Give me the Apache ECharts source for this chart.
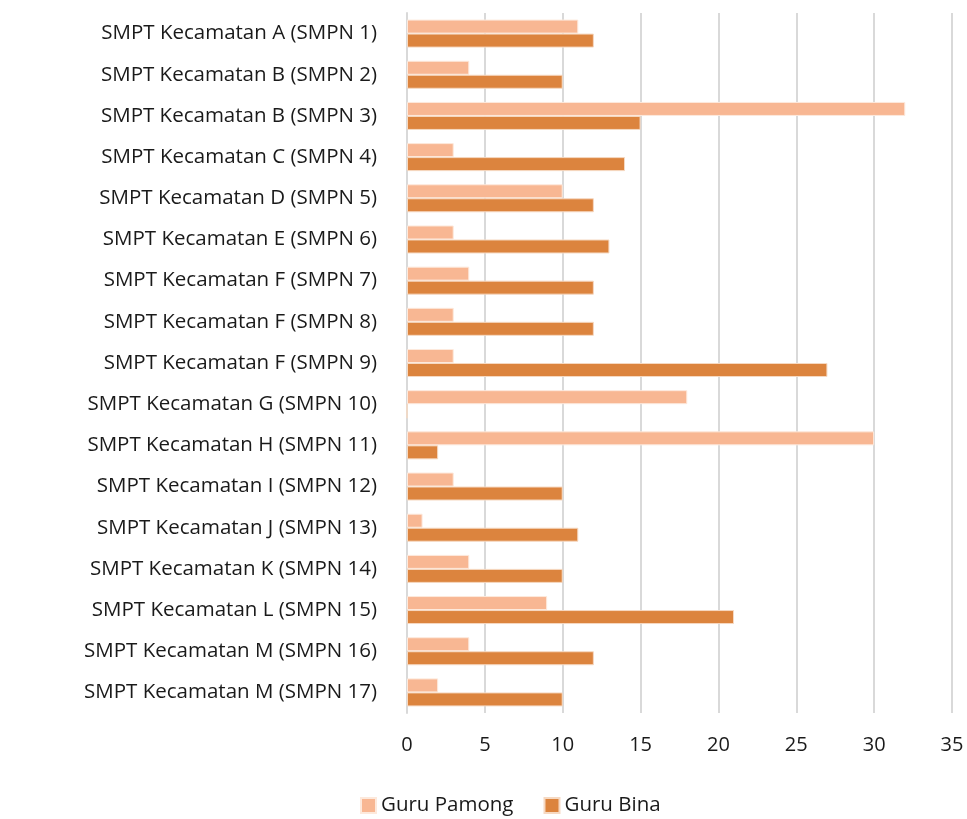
<!DOCTYPE html>
<html>
<head>
<meta charset="utf-8">
<script src="https://cdn.jsdelivr.net/npm/echarts@6/dist/echarts.min.js"></script>
<style>
  html, body { margin: 0; padding: 0; background: #fff; }
  #chart { width: 967px; height: 819px; }
</style>
</head>
<body>
<div id="chart"></div>
<script>
// sekolah, dari atas ke bawah
const schools = [
  'SMPT Kecamatan A (SMPN 1)',
  'SMPT Kecamatan B (SMPN 2)',
  'SMPT Kecamatan B (SMPN 3)',
  'SMPT Kecamatan C (SMPN 4)',
  'SMPT Kecamatan D (SMPN 5)',
  'SMPT Kecamatan E (SMPN 6)',
  'SMPT Kecamatan F (SMPN 7)',
  'SMPT Kecamatan F (SMPN 8)',
  'SMPT Kecamatan F (SMPN 9)',
  'SMPT Kecamatan G (SMPN 10)',
  'SMPT Kecamatan H (SMPN 11)',
  'SMPT Kecamatan I (SMPN 12)',
  'SMPT Kecamatan J (SMPN 13)',
  'SMPT Kecamatan K (SMPN 14)',
  'SMPT Kecamatan L (SMPN 15)',
  'SMPT Kecamatan M (SMPN 16)',
  'SMPT Kecamatan M (SMPN 17)'
];
const guruPamong = [11, 4, 32, 3, 10, 3, 4, 3, 3, 18, 30, 3, 1, 4, 9, 4, 2];
const guruBina = [12, 10, 15, 14, 12, 13, 12, 12, 27, 0, 2, 10, 11, 10, 21, 12, 10];
const xTicks = [0, 5, 10, 15, 20, 25, 30, 35];

const font = '"Open Sans", "Noto Sans", sans-serif';
const txt = '#1a1a1a';
const chart = echarts.init(document.getElementById('chart'));

chart.setOption({
  animation: false,
  backgroundColor: '#fff',
  textStyle: { fontFamily: font },
  legend: {
    bottom: -2,
    left: 355,
    itemWidth: 15,
    itemHeight: 15,
    itemGap: 30,
    icon: 'rect',
    textStyle: { fontSize: 20.5, color: txt, fontFamily: font },
    data: ['Guru Pamong', 'Guru Bina']
  },
  grid: { left: 407, right: 15, top: 13, bottom: 106, containLabel: false },
  xAxis: {
    type: 'value',
    min: xTicks[0],
    max: xTicks[xTicks.length - 1],
    interval: 5,
    axisLine: { show: false },
    axisTick: { show: false },
    axisLabel: { fontSize: 20, color: txt, margin: 22, fontFamily: font },
    splitLine: { lineStyle: { color: '#d9d9d9', width: 2 } }
  },
  yAxis: {
    type: 'category',
    inverse: true,
    data: schools,
    axisLine: { lineStyle: { color: '#d9d9d9', width: 2 } },
    axisTick: { show: false },
    axisLabel: { fontSize: 20.5, color: txt, margin: 30, fontFamily: font }
  },
  series: [
    {
      name: 'Guru Pamong',
      type: 'bar',
      data: guruPamong,
      barWidth: 14,
      barGap: '0%',
      itemStyle: { color: '#f8b793', borderColor: '#fde9dc', borderWidth: 1 }
    },
    {
      name: 'Guru Bina',
      type: 'bar',
      data: guruBina,
      barWidth: 14,
      barGap: '0%',
      itemStyle: { color: '#dc843e', borderColor: '#f6d9c2', borderWidth: 1 }
    }
  ]
});
</script>
</body>
</html>
